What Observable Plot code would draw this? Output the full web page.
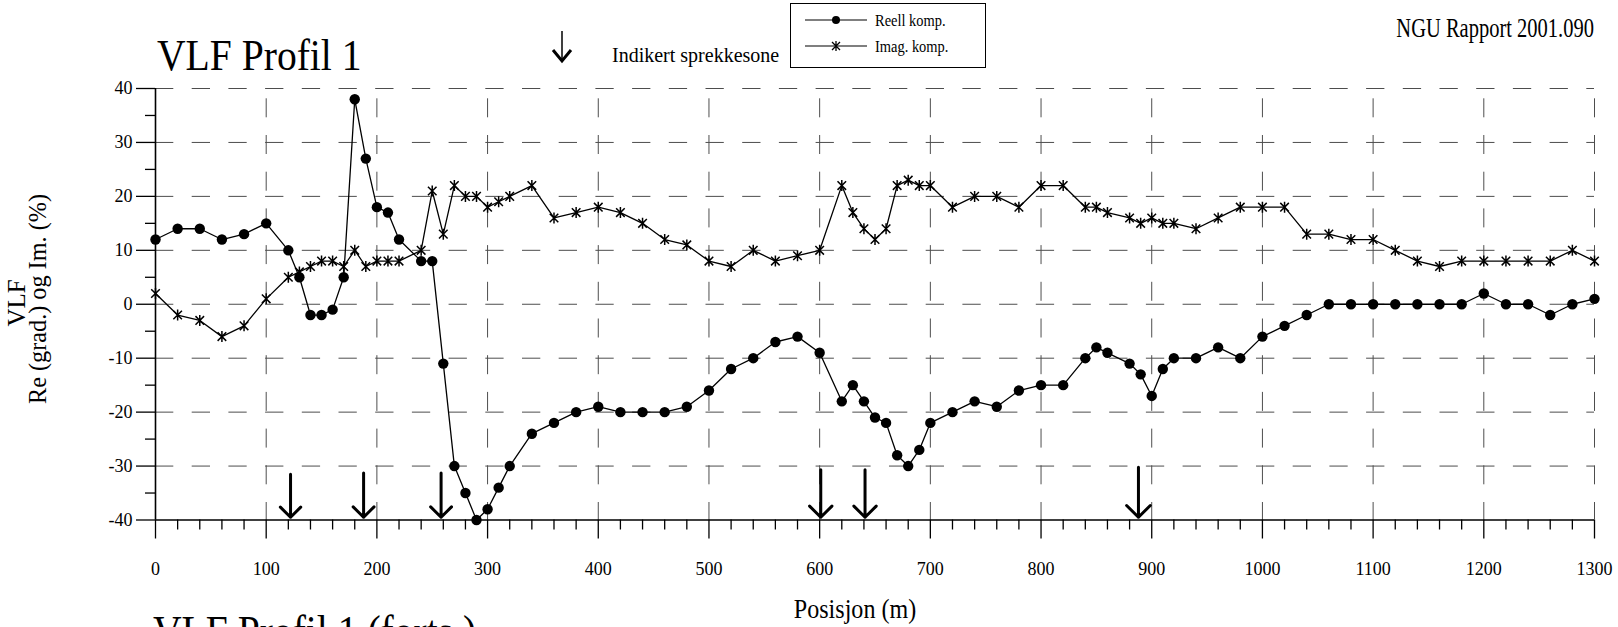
<!DOCTYPE html>
<html><head><meta charset="utf-8">
<script src="https://cdn.jsdelivr.net/npm/d3@7"></script>
<script src="https://cdn.jsdelivr.net/npm/@observablehq/plot@0.6"></script>
<style>
html,body{margin:0;padding:0;background:#fff;overflow:hidden;}
#wrap{position:relative;width:1618px;height:627px;overflow:hidden;}
</style></head><body><div id="wrap"></div>
<script>
// Position along profile (m)
const position = [0,20,40,60,80,100,120,130,140,150,160,170,180,190,200,210,220,240,250,260,270,280,290,300,310,320,340,360,380,400,420,440,460,480,500,520,540,560,580,600,620,630,640,650,660,670,680,690,700,720,740,760,780,800,820,840,850,860,880,890,900,910,920,940,960,980,1000,1020,1040,1060,1080,1100,1120,1140,1160,1180,1200,1220,1240,1260,1280,1300];
// Reell komp. (grad.)
const reell = [12,14,14,12,13,15,10,5,-2,-2,-1,5,38,27,18,17,12,8,8,-11,-30,-35,-40,-38,-34,-30,-24,-22,-20,-19,-20,-20,-20,-19,-16,-12,-10,-7,-6,-9,-18,-15,-18,-21,-22,-28,-30,-27,-22,-20,-18,-19,-16,-15,-15,-10,-8,-9,-11,-13,-17,-12,-10,-10,-8,-10,-6,-4,-2,0,0,0,0,0,0,0,2,0,0,-2,0,1];
// Imag. komp. (%)
const imag = [2,-2,-3,-6,-4,1,5,6,7,8,8,7,10,7,8,8,8,10,21,13,22,20,20,18,19,20,22,16,17,18,17,15,12,11,8,7,10,8,9,10,22,17,14,12,14,22,23,22,22,18,20,20,18,22,22,18,18,17,16,15,16,15,15,14,16,18,18,18,13,13,12,12,10,8,7,8,8,8,8,8,10,8];
// Indikert sprekkesone (arrows)
const arrowPos = [122,188,258,601,641,888];
const arrowTop = [-31.5,-31.3,-31.3,-30.7,-30.7,-30.2];
const arrowTip = -39.5;
// Tick labels
const xTicks = [0,100,200,300,400,500,600,700,800,900,1000,1100,1200,1300];
const yTicks = [-40,-30,-20,-10,0,10,20,30,40];
const xGrid = [100,200,300,400,500,600,700,800,900,1000,1100,1200,1300];
const yGrid = [-30,-20,-10,0,10,20,30,40];
const yMinor = [-35,-25,-15,-5,5,15,25,35];
const xMinor = d3.range(0, 1301, 20).filter(v => v % 100 !== 0);

const rows = position.map((x, i) => ({x, re: reell[i], im: imag[i]}));
const arrows = arrowPos.map((x, i) => ({x, top: arrowTop[i], tip: arrowTip}));

const star = {
  draw(ctx, size) {
    const r = Math.sqrt(size / Math.PI);
    const d = r * 0.78;
    ctx.moveTo(0, -r); ctx.lineTo(0, r);
    ctx.moveTo(-d, -d); ctx.lineTo(d, d);
    ctx.moveTo(-d, d); ctx.lineTo(d, -d);
  }
};

const F = '"Liberation Serif","Times New Roman",serif';
const fmt = d => String(d);

const chart = Plot.plot({
  width: 1618, height: 627,
  marginLeft: 155, marginRight: 24, marginTop: 88, marginBottom: 107.5,
  x: {domain: [0, 1300]},
  y: {domain: [-40, 40]},
  style: {fontFamily: F, fontSize: "18px", color: "#000", background: "#fff"},
  marks: [
    Plot.ruleY(yGrid, {stroke: "#4d4d4d", strokeWidth: 1, strokeDasharray: "18.3,18.4"}),
    Plot.ruleX(xGrid, {stroke: "#4d4d4d", strokeWidth: 1, strokeDasharray: "19,17.7", strokeDashoffset: 26.4}),
    Plot.axisY(yTicks, {anchor: "left", tickSize: 19, tickPadding: 4, label: null, tickFormat: fmt, strokeWidth: 1.3}),
    Plot.axisY(yMinor, {anchor: "left", tickSize: 10, label: null, tickFormat: () => "", strokeWidth: 1.3}),
    Plot.axisX(xTicks, {anchor: "bottom", tickSize: 19, tickPadding: 23, label: null, tickFormat: fmt, strokeWidth: 1.3}),
    Plot.axisX(xMinor, {anchor: "bottom", tickSize: 10, label: null, tickFormat: () => "", strokeWidth: 1.3}),
    Plot.ruleX([0], {stroke: "#000", strokeWidth: 1.6}),
    Plot.ruleY([-40], {stroke: "#000", strokeWidth: 1.6}),
    Plot.line(rows, {x: "x", y: "im", stroke: "#000", strokeWidth: 1.3}),
    Plot.dot(rows, {x: "x", y: "im", symbol: star, r: 5.5, stroke: "#000", strokeWidth: 1.5, fill: "none"}),
    Plot.line(rows, {x: "x", y: "re", stroke: "#000", strokeWidth: 1.3}),
    Plot.dot(rows, {x: "x", y: "re", r: 5.2, fill: "#000", stroke: "none"}),
    Plot.arrow(arrows, {x: "x", y1: "top", y2: "tip", stroke: "#000", strokeWidth: 3, headAngle: 90, headLength: 13})
  ]
});
document.getElementById("wrap").appendChild(chart);

const svg = d3.select(chart);
// text helper: x,y = anchor point; sx = horizontal condensation; rot = rotation
function txt(x, y, s, size, anchor = "start", sx = 1, rot = 0) {
  return svg.append("text").attr("font-family", F).attr("font-size", size)
    .attr("text-anchor", anchor).attr("fill", "#000")
    .attr("transform", `translate(${x},${y})${rot ? ` rotate(${rot})` : ""} scale(${sx},1)`)
    .text(s);
}
txt(157, 70, "VLF Profil 1", 44, "start", 0.9);
txt(153, 646, "VLF Profil 1 (forts.)", 44, "start", 0.9);
txt(1594, 37, "NGU Rapport 2001.090", 27, "end", 0.76);
txt(855, 618, "Posisjon (m)", 28, "middle", 0.86);
txt(612, 62, "Indikert sprekkesone", 20, "start", 1);
txt(25, 303, "VLF", 25, "middle", 1, -90);
txt(46, 299, "Re (grad.) og Im. (%)", 25, "middle", 0.97, -90);

// indicator arrow for legend
svg.append("line").attr("x1", 562).attr("y1", 31).attr("x2", 562).attr("y2", 60).attr("stroke", "#000").attr("stroke-width", 1.5);
svg.append("path").attr("d", "M553,50 L562,61 L571,50").attr("fill", "none").attr("stroke", "#000").attr("stroke-width", 3);

// legend box
const lg = svg.append("g");
lg.append("rect").attr("x", 790.5).attr("y", 3.5).attr("width", 195).attr("height", 64).attr("fill", "#fff").attr("stroke", "#000").attr("stroke-width", 1);
lg.append("line").attr("x1", 805).attr("x2", 867).attr("y1", 20).attr("y2", 20).attr("stroke", "#000").attr("stroke-width", 1.2);
lg.append("circle").attr("cx", 836).attr("cy", 20).attr("r", 4).attr("fill", "#000");
lg.append("line").attr("x1", 805).attr("x2", 867).attr("y1", 46).attr("y2", 46).attr("stroke", "#000").attr("stroke-width", 1.2);
lg.append("path").attr("d", "M836,41L836,51M832,42L840,50M832,50L840,42").attr("stroke", "#000").attr("stroke-width", 1.3);
txt(875, 26, "Reell komp.", 17, "start", 0.85);
txt(875, 52, "Imag. komp.", 17, "start", 0.85);
</script></body></html>
